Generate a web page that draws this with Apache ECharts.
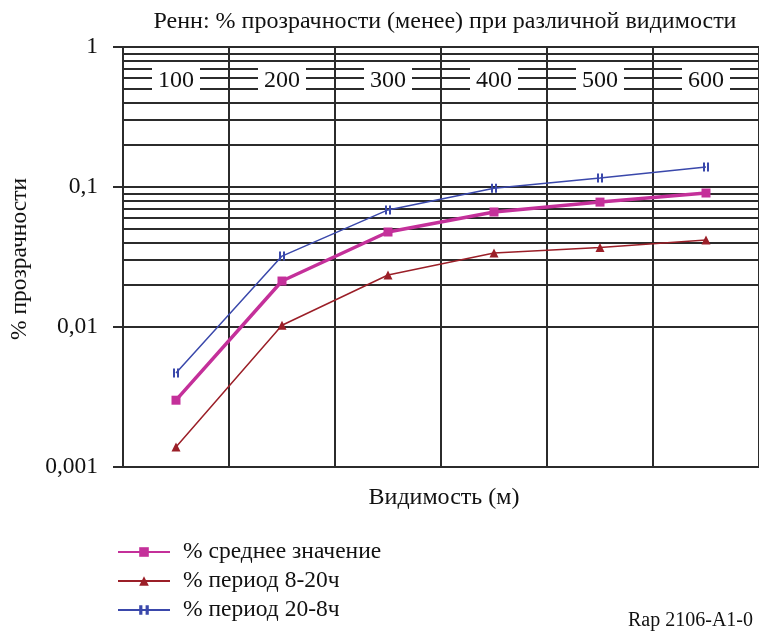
<!DOCTYPE html>
<html><head><meta charset="utf-8">
<script src="https://cdn.jsdelivr.net/npm/echarts@6/dist/echarts.min.js"></script>
<style>html,body{margin:0;padding:0;background:#fff}#c{width:759px;height:634px}</style>
</head><body><div id="c"></div>
<script>
const categories = ['100', '200', '300', '400', '500', '600'];
const meanValues = [0.0030, 0.0213, 0.0477, 0.0663, 0.078, 0.0906];
const dayValues = [0.00139, 0.0103, 0.0235, 0.0338, 0.037, 0.0418];
const nightValues = [0.00469, 0.0321, 0.0686, 0.098, 0.116, 0.139];
const yTickLabels = ['0,001', '0,01', '0,1', '1'];
const minorGridValues = [];
[0.001, 0.01, 0.1].forEach(d => { for (let k = 2; k <= 9; k++) minorGridValues.push(+(d * k).toPrecision(3)); });

const font = 'Liberation Serif';
const gridColor = '#2b2b2b';
const chart = echarts.init(document.getElementById('c'));
chart.setOption({
  backgroundColor: '#fff',
  animation: false,
  textStyle: { fontFamily: font },
  grid: { left: 123, top: 47, bottom: 167, right: -4 },
  xAxis: [{
    type: 'category', data: categories, position: 'bottom', boundaryGap: true,
    axisLine: { show: false }, axisTick: { show: false }, axisLabel: { show: false },
    splitLine: { show: true, lineStyle: { color: gridColor, width: 2 } }
  }, {
    type: 'category', data: categories, position: 'top', boundaryGap: true, z: 20,
    axisLine: { show: false }, axisTick: { show: false }, splitLine: { show: false },
    axisLabel: { inside: true, margin: 21, color: '#111', fontSize: 24, fontFamily: font,
      backgroundColor: '#fff', padding: [1, 6, 0, 6], verticalAlign: 'top' }
  }],
  yAxis: {
    type: 'log', logBase: 10, min: 0.001, max: 1,
    axisLine: { show: true, lineStyle: { color: gridColor, width: 2 } },
    axisTick: { show: true, length: 10, lineStyle: { color: gridColor, width: 2 } },
    axisLabel: { margin: 25, color: '#111', fontSize: 23.5, fontFamily: font,
      formatter: v => yTickLabels[Math.round(Math.log10(v)) + 3] },
    splitLine: { show: true, lineStyle: { color: gridColor, width: 2 } }
  },
  legend: {
    orient: 'vertical', left: 112, top: 535, itemWidth: 52, itemHeight: 12, itemGap: 5,
    textStyle: { fontSize: 23.5, fontFamily: font, color: '#111', padding: [0, 0, 0, 8] },
    data: ['% среднее значение', '% период 8-20ч', '% период 20-8ч']
  },
  series: [
    { name: '% среднее значение', type: 'line', data: meanValues, z: 4,
      symbol: 'rect', symbolSize: 9, itemStyle: { color: '#c4309a' },
      lineStyle: { color: '#c4309a', width: 3.5 },
      markLine: { silent: true, symbol: 'none', z: 1, label: { show: false },
        lineStyle: { color: gridColor, width: 2, type: 'solid' },
        data: minorGridValues.map(v => ({ yAxis: v })) } },
    { name: '% период 8-20ч', type: 'line', data: dayValues, z: 4,
      symbol: 'triangle', symbolSize: 9, itemStyle: { color: '#9b1f28' },
      lineStyle: { color: '#9b1f28', width: 1.5 } },
    { name: '% период 20-8ч', type: 'line', data: nightValues, z: 4,
      symbol: 'path://M0,0h2v10h-2z M4,0h2v10h-2z', symbolSize: [6, 9], itemStyle: { color: '#3a48ab' },
      lineStyle: { color: '#3a48ab', width: 1.5 } }
  ],
  graphic: [
    { type: 'text', x: 445, y: 22, style: { text: 'Ренн: % прозрачности (менее) при различной видимости',
      font: '24px "Liberation Serif"', fill: '#111', textAlign: 'center', textVerticalAlign: 'middle' } },
    { type: 'text', x: 20, y: 259, rotation: Math.PI / 2, style: { text: '% прозрачности',
      font: '23.5px "Liberation Serif"', fill: '#111', textAlign: 'center', textVerticalAlign: 'middle' } },
    { type: 'text', x: 444, y: 498, style: { text: 'Видимость (м)',
      font: '24px "Liberation Serif"', fill: '#111', textAlign: 'center', textVerticalAlign: 'middle' } },
    { type: 'text', x: 628, y: 621, style: { text: 'Rap 2106-A1-0',
      font: '20px "Liberation Serif"', fill: '#111', textAlign: 'left', textVerticalAlign: 'middle' } }
  ]
});
</script></body></html>
